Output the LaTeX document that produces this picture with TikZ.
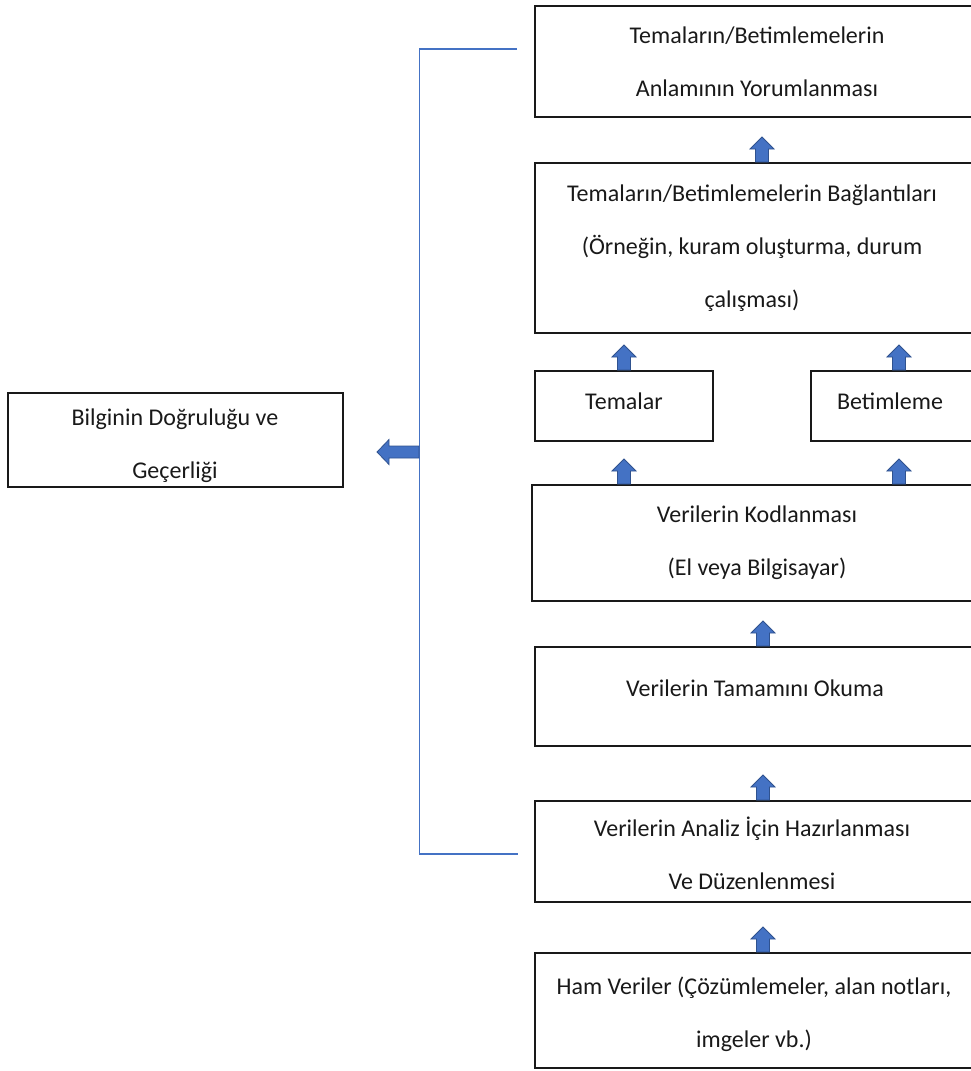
\documentclass[tikz,border=0pt]{standalone}
\usepackage{fontspec}
\setmainfont{Carlito}
\usetikzlibrary{calc}
\definecolor{arrfill}{HTML}{4472C4}
\definecolor{arrline}{HTML}{2F528F}
\definecolor{brkline}{HTML}{4472C4}
\begin{document}
\begin{tikzpicture}[x=1pt,y=-1pt,
  box/.style={draw=black!90, line width=2pt, inner sep=0pt},
  txt/.style={align=center, inner sep=0pt, font=\fontsize{24}{53}\selectfont, text=black!90},
  brk/.style={draw=brkline, line width=1.3pt},
  uparr/.pic={\filldraw[fill=arrfill, draw=arrline, line width=0.8pt]
     (-6.5,0) -- (-6.5,-13) -- (-12,-13) -- (0,-25) -- (12,-13) -- (6.5,-13) -- (6.5,0) -- cycle;}
]
\useasboundingbox (0,0) rectangle (970,1071);

% boxes
\node[box, minimum width=437, minimum height=111] (top) at (753.5,61.5) {};
\node[box, minimum width=437, minimum height=170] (conn) at (753.5,248) {};
\node[box, minimum width=178, minimum height=70] (tem) at (624,406) {};
\node[box, minimum width=161, minimum height=70] (bet) at (891.5,406) {};
\node[box, minimum width=440, minimum height=116] (kod) at (752,543) {};
\node[box, minimum width=437, minimum height=99] (tam) at (753.5,696.5) {};
\node[box, minimum width=437, minimum height=101] (ana) at (753.5,851.5) {};
\node[box, minimum width=437, minimum height=115] (ham) at (753.5,1010.5) {};
\node[box, minimum width=335, minimum height=94] (lft) at (175.5,440) {};

% texts
\node[txt] (top-t) at (757,61.5) {Temaların/Betimlemelerin\\Anlamının Yorumlanması};
\node[txt] (conn-t) at (752,248) {Temaların/Betimlemelerin Bağlantıları\\(Örneğin, kuram oluşturma, durum\\çalışması)};
\node[txt] (tem-t) at (624,401) {Temalar};
\node[txt] (bet-t) at (890,401) {Betimleme};
\node[txt] (kod-t) at (757,542.5) {Verilerin Kodlanması\\(El veya Bilgisayar)};
\node[txt] (tam-t) at (755,688) {Verilerin Tamamını Okuma};
\node[txt] (ana-t) at (752,853) {Verilerin Analiz İçin Hazırlanması\\Ve Düzenlenmesi};
\node[txt] (ham-t) at (754,1014) {Ham Veriler (Çözümlemeler, alan notları,\\imgeler vb.)};
\node[txt] (lft-t) at (175,446) {Bilginin Doğruluğu ve\\Geçerliği};

% up arrows
\pic at ($(conn.north)+(8.5,0)$) {uparr};
\pic at (tem.north) {uparr};
\pic at ($(bet.north)+(7.5,0)$) {uparr};
\pic at ($(kod.north -| tem.north)$) {uparr};
\pic at ($(kod.north -| bet.north)+(7.5,0)$) {uparr};
\pic at ($(tam.north)+(9.5,0)$) {uparr};
\pic at ($(ana.north)+(9.5,0)$) {uparr};
\pic at ($(ham.north)+(9.5,0)$) {uparr};

% bracket
\coordinate (b1) at ($(top.west)+(-17,-12.5)$);
\coordinate (b2) at ($(ana.west)+(-16,2.5)$);
\coordinate (bx) at (419.5,0);
\draw[brk] (b1) -- (b1 -| bx) -- (b2 -| bx) -- (b2);

% left arrow
\coordinate (la) at (419,452);
\filldraw[fill=arrfill, draw=arrline, line width=0.8pt]
  (la) ++(0,-6) -- ++(-30,0) -- ++(0,-6.5) -- ++(-12,12.5) -- ++(12,12.5) -- ++(0,-6.5) -- ++(30,0) -- cycle;
\end{tikzpicture}
\end{document}
